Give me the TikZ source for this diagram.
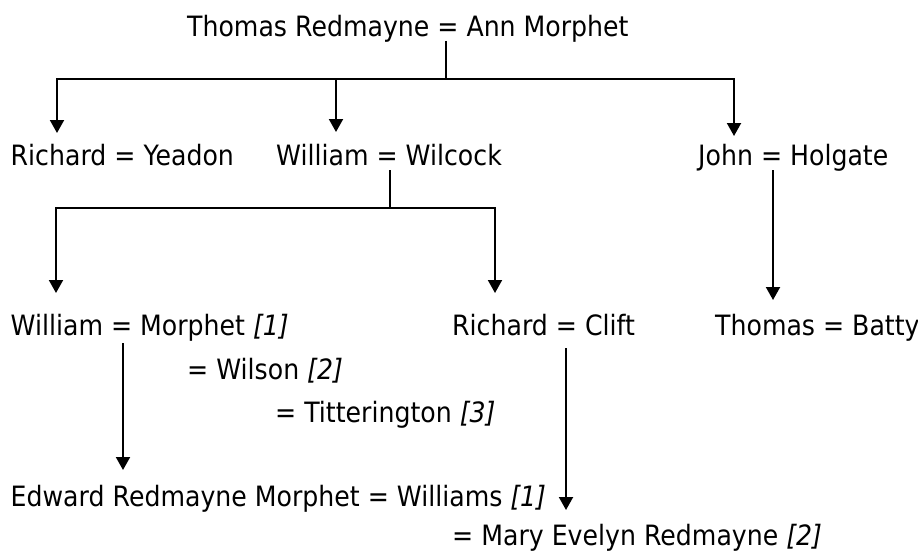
\documentclass[tikz,border=0pt]{standalone}
\usepackage{fontspec}
\setmainfont{DejaVu Sans}[FakeStretch=0.9]
\usetikzlibrary{arrows.meta, calc}

\begin{document}
\begin{tikzpicture}[
    x=1pt, y=-1pt,
    pers/.style={anchor=base west, inner sep=0pt,
                 font=\fontsize{28}{30}\selectfont},
    wno/.style={font=\itshape},
    ln/.style={line width=2pt},
    arr/.style={ln,
                -{Triangle[length=13pt,
                           width=14pt]}},
]
\useasboundingbox (0,0) rectangle (918,551);

% -- Couples --------------------------------
\node[pers] (top)   at (187,37)
    {Thomas Redmayne = Ann Morphet};
\node[pers] (rich)  at (10.5,165)
    {Richard = Yeadon};
\node[pers] (will)  at (276,165)
    {William = Wilcock};
\node[pers] (john)  at (698,165)
    {John = Holgate};
\node[pers] (willm) at (10.5,335)
    {William = Morphet \textit{[1]}};
\node[pers] (richc) at (452,335)
    {Richard = Clift};
\node[pers] (thom)  at (715,335)
    {Thomas = Batty};
\node[pers] (wils)  at (187,379)
    {= Wilson \textit{[2]}};
\node[pers] (titt)  at (275,422)
    {= Titterington \textit{[3]}};
\node[pers] (edw)   at (10.5,506)
    {Edward Redmayne Morphet = Williams \textit{[1]}};
\node[pers] (mary)  at (452,545)
    {= Mary Evelyn Redmayne \textit{[2]}};

% -- Junctions ------------------------------
\coordinate (j0) at (446,79);
\coordinate (j1) at (390,208);

% -- Children of Thomas ---------------------
\draw[ln] ($(top.base west)+(259,4)$) -- (j0);
\draw[arr] (j0) -| ($(rich.base west)+(46.5,-32)$);
\draw[arr] (j0) -| ($(will.base west)+(60,-33)$);
\draw[arr] (j0) -| ($(john.base west)+(36,-29)$);

% -- Children of William --------------------
\draw[ln] ($(will.base west)+(114,5)$) -- (j1);
\draw[arr] (j1) -| ($(willm.base west)+(45.5,-42)$);
\draw[arr] (j1) -| ($(richc.base west)+(43,-42)$);

% -- Child of John --------------------------
\draw[arr] ($(john.base west)+(75,5)$)
    -- ($(thom.base west)+(58,-35)$);

% -- Grandchildren --------------------------
\draw[arr] ($(willm.base west)+(112.5,8)$)
    -- ($(edw.base west)+(112.5,-36)$);
\draw[arr] ($(richc.base west)+(114,13)$)
    -- ($(edw.base west)+(555.5,4)$);

\end{tikzpicture}
\end{document}
